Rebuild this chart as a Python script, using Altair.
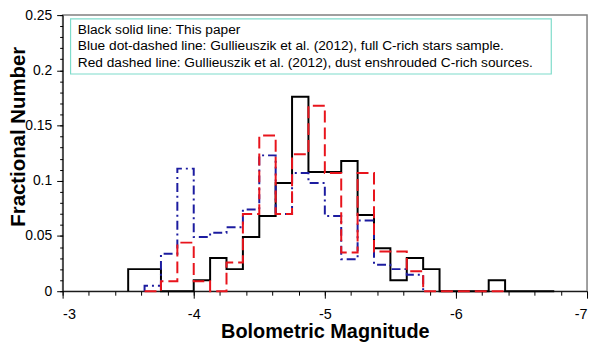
import altair as alt
import pandas as pd

# Bin left edges (bolometric magnitude), bin width 0.125 mag; last entry is the final right edge
bin_edges = [-3.5, -3.625, -3.75, -3.875, -4.0, -4.125, -4.25, -4.375, -4.5, -4.625,
             -4.75, -4.875, -5.0, -5.125, -5.25, -5.375, -5.5, -5.625, -5.75, -5.875,
             -6.0, -6.125, -6.25, -6.375, -6.5, -6.625, -6.75]

# Fractional number per bin (None = series not drawn there)
this_paper = [0.020, 0.020, 0.0, 0.0, 0.010, 0.030, 0.020, 0.049, 0.068, 0.098,
              0.176, 0.108, 0.108, 0.118, 0.069, 0.039, 0.010, 0.030, 0.020, 0.0,
              0.0, 0.0, 0.010, 0.0, 0.0, 0.0]
full_sample = [None, 0.005, 0.034, 0.111, 0.049, 0.053, 0.058, 0.074, 0.123, 0.070,
               0.107, 0.098, 0.068, 0.029, 0.064, 0.024, 0.020, 0.015, None, None,
               None, None, None, None, None, None]
dust_enshrouded = [None, 0.0, 0.009, 0.044, 0.009, 0.0, 0.026, 0.070, 0.141, 0.070,
                   0.124, 0.168, 0.107, 0.035, 0.107, 0.036, 0.036, 0.018, 0.0, 0.0,
                   0.0, 0.0, 0.0, None, None, None]

x_major = [-3, -4, -5, -6, -7]
x_minor = [round(-3 - 0.2 * k, 1) for k in range(21)]
y_major = [0, 0.05, 0.1, 0.15, 0.2, 0.25]
y_minor = [round(0.01 * k, 2) for k in range(26)]

legend_lines = [
    "Black solid line: This paper",
    "Blue dot-dashed line: Gullieuszik et al. (2012), full C-rich stars sample.",
    "Red dashed line: Gullieuszik et al. (2012), dust enshrouded C-rich sources.",
]

FONT = "Liberation Sans"


def step_rows(name, vals):
    idx = [i for i, v in enumerate(vals) if v is not None]
    s, e = idx[0], idx[-1]
    rows = [(name, 0, bin_edges[s], 0.0)]
    n = 1
    for i in range(s, e + 1):
        rows.append((name, n, bin_edges[i], vals[i]))
        n += 1
    rows.append((name, n, bin_edges[e + 1], 0.0))
    return rows


rows = (step_rows("black", this_paper) + step_rows("blue", full_sample)
        + step_rows("red", dust_enshrouded))
df = pd.DataFrame(rows, columns=["series", "i", "mag", "frac"])

xscale = alt.Scale(domain=[-7, -3], reverse=True, nice=False, zero=False)
yscale = alt.Scale(domain=[0, 0.25], nice=False, zero=False)

x_axis_major = alt.Axis(values=x_major, labelExpr="'' + datum.value", tickSize=7,
                        tickColor="black", domainColor="black", labelFontSize=14.5,
                        labelFont=FONT, labelColor="black", labelPadding=16,
                        labelBaseline="middle", grid=False,
                        title="Bolometric Magnitude", titleFont=FONT, titleFontSize=20,
                        titleFontWeight="bold", titleColor="black", titleY=41,
                        titleBaseline="middle", orient="bottom")
x_axis_minor = alt.Axis(values=x_minor, labels=False, tickSize=4, tickColor="black",
                        domain=False, grid=False, title=None, orient="bottom")
y_axis_major = alt.Axis(values=y_major, labelExpr="'' + datum.value", tickSize=6,
                        tickColor="black", domainColor="black", labelFontSize=14,
                        labelFont=FONT, labelColor="black", labelPadding=5, grid=False,
                        title="Fractional Number", titleFont=FONT, titleFontSize=20.5,
                        titleFontWeight="bold", titleColor="black", titleX=-44,
                        titleY=122, titleAngle=270, titleBaseline="middle",
                        titleAlign="center", orient="left")
y_axis_minor = alt.Axis(values=y_minor, labels=False, tickSize=3, tickColor="black",
                        domain=False, grid=False, title=None, orient="left")

base = alt.Chart(df)

black = base.transform_filter(alt.datum.series == "black").mark_line(
    interpolate="step-after", color="black", strokeWidth=2
).encode(
    x=alt.X("mag:Q", scale=xscale, axis=x_axis_major),
    y=alt.Y("frac:Q", scale=yscale, axis=y_axis_major),
    order="i:Q",
)
blue = base.transform_filter(alt.datum.series == "blue").mark_line(
    interpolate="step-after", color="#1c1ca0", strokeWidth=2, strokeDash=[9, 4, 2, 4]
).encode(
    x=alt.X("mag:Q", scale=xscale, axis=x_axis_minor),
    y=alt.Y("frac:Q", scale=yscale, axis=y_axis_minor),
    order="i:Q",
)
red = base.transform_filter(alt.datum.series == "red").mark_line(
    interpolate="step-after", color="#e8141c", strokeWidth=2, strokeDash=[12, 5]
).encode(
    x=alt.X("mag:Q", scale=xscale, axis=None),
    y=alt.Y("frac:Q", scale=yscale, axis=None),
    order="i:Q",
)

one = pd.DataFrame({"a": [0]})
box = alt.Chart(one).mark_rect(fillOpacity=0, stroke="#7fdccb", strokeWidth=1.2).encode(
    x=alt.value(8), x2=alt.value(492), y=alt.value(3.7), y2=alt.value(59.3)
)
texts = []
for k, line in enumerate(legend_lines):
    texts.append(
        alt.Chart(one).mark_text(align="left", baseline="middle", font=FONT,
                                 fontSize=13.8, color="black", text=line)
        .encode(x=alt.value(15.3), y=alt.value(15 + 16.4 * k))
    )

chart = alt.layer(black, blue, red, box, *texts).resolve_axis(
    x="independent", y="independent"
).properties(
    width=528, height=278,
    autosize=alt.AutoSizeParams(type="none"),
    padding={"left": 55, "top": 6, "right": 5, "bottom": 53},
).configure_view(stroke="#808080", strokeWidth=1.5)

chart.save("out.html", embed_options={"renderer": "svg", "actions": False})
